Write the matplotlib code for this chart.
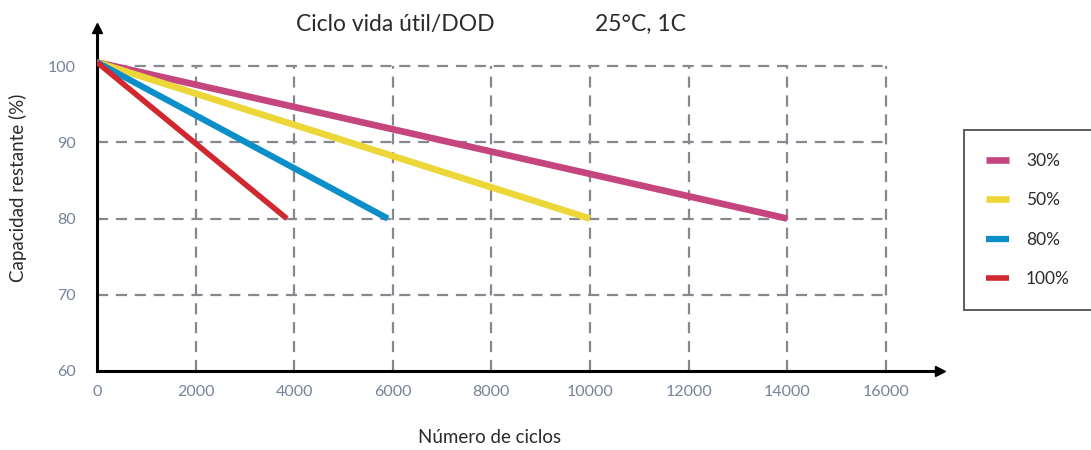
#!/usr/bin/env python3
"""Ciclo vida util / DOD chart (25C, 1C)."""
import matplotlib
matplotlib.use("Agg")
import matplotlib.pyplot as plt

plt.rcParams["font.family"] = ["Lato", "DejaVu Sans"]

# data
dod_labels = ["30%", "50%", "80%", "100%"]
start_cycles = [0, 0, 0, 0]
end_cycles = [14000, 10000, 5900, 3850]
start_capacity = [100.5, 100.5, 100.5, 100.5]
end_capacity = [80, 80, 80, 80]
colors = ["#c5467e", "#ecd638", "#0a8fc8", "#d0282e"]
widths = [4.8, 4.8, 4.5, 4.0]

x_ticks = [0, 2000, 4000, 6000, 8000, 10000, 12000, 14000, 16000]
y_ticks = [60, 70, 80, 90, 100]

GRID = "#85888e"
TICKC = "#75839a"
TEXTC = "#2b2b2b"


def main():
    fig = plt.figure(figsize=(10.91, 4.5), dpi=100)
    ax = fig.add_axes([97 / 1091, 1 - 371 / 450, 843 / 1091, 343 / 450])
    ax.set_xlim(0, 17100)
    ax.set_ylim(60, 105)

    # dashed grid only inside the 0..16000 / 60..100 box
    ax.vlines(x_ticks[1:], 60, 100, colors=GRID, linestyles=(0, (5, 3.5)), lw=1.6, zorder=1)
    ax.hlines(y_ticks[1:], 0, 16000, colors=GRID, linestyles=(0, (5, 3.5)), lw=1.6, zorder=1)

    for x0, x1, y0, y1, c, w, lab in zip(start_cycles, end_cycles, start_capacity,
                                         end_capacity, colors, widths, dod_labels):
        ax.plot([x0, x1], [y0, y1], color=c, lw=w, label=lab,
                solid_capstyle="butt", zorder=3)

    for s in ["top", "right"]:
        ax.spines[s].set_visible(False)
    for s in ["left", "bottom"]:
        ax.spines[s].set_linewidth(2.2)
        ax.spines[s].set_color("black")
    # axis arrows
    ax.plot(1, 0, ">k", ms=7, transform=ax.transAxes, clip_on=False)
    ax.plot(0, 1, "^k", ms=7, transform=ax.transAxes, clip_on=False)

    ax.set_xticks(x_ticks)
    ax.set_yticks(y_ticks)
    ax.tick_params(axis="x", length=0, pad=10, labelsize=11.5, labelcolor=TICKC)
    ax.tick_params(axis="y", length=0, pad=15, labelsize=11.5, labelcolor=TICKC)

    ax.set_ylabel("Capacidad restante (%)", fontsize=13.5, color=TEXTC)
    ax.yaxis.set_label_coords(-0.083, 0.535)
    ax.set_xlabel("Número de ciclos", fontsize=13.5, color=TEXTC)
    ax.xaxis.set_label_coords(0.466, -0.17)

    fig.text(395 / 1091, 1 - 24 / 450, "Ciclo vida útil/DOD", fontsize=16.5,
             color=TEXTC, ha="center", va="center")
    fig.text(640 / 1091, 1 - 24 / 450, "25°C, 1C", fontsize=16.5,
             color=TEXTC, ha="center", va="center")

    leg = fig.legend(loc="center", bbox_to_anchor=(1028 / 1091, 1 - 220 / 450),
                     frameon=True, fancybox=False, fontsize=12.5,
                     handlelength=1.3, handletextpad=1.0, labelspacing=1.35,
                     borderpad=1.3, borderaxespad=0)
    leg.get_frame().set_edgecolor("#333333")
    leg.get_frame().set_linewidth(1.4)
    for t in leg.get_texts():
        t.set_color(TEXTC)

    fig.savefig("out.png", dpi=100)
    plt.close(fig)


if __name__ == "__main__":
    main()
